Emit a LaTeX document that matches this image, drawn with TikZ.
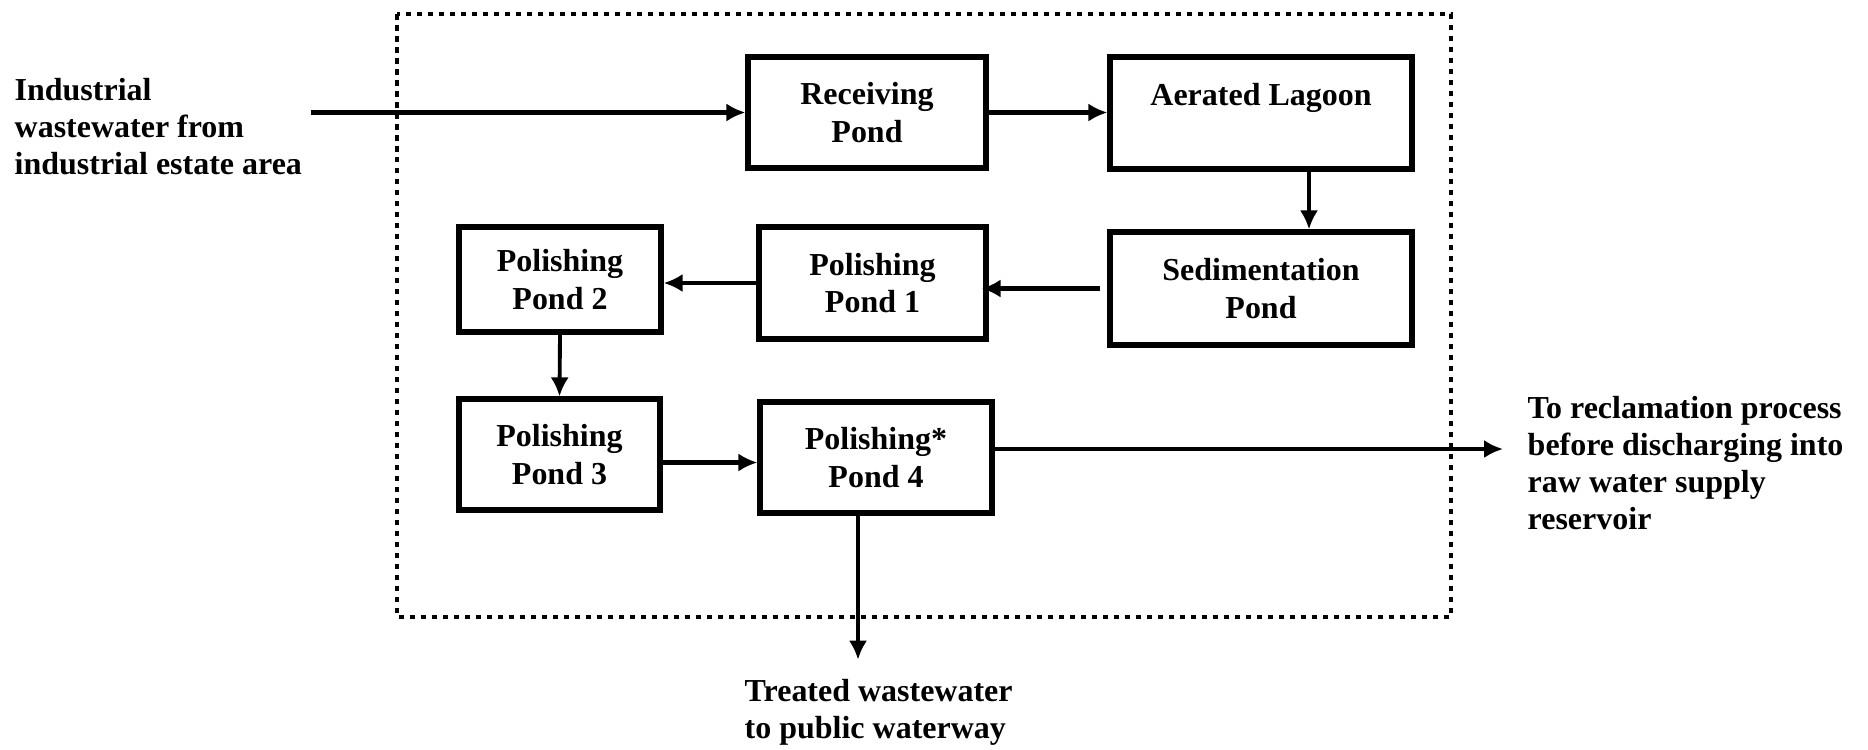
\documentclass[tikz,border=0pt]{standalone}
\usepackage{fontspec}
\setmainfont{Liberation Serif}
\usetikzlibrary{positioning, calc, arrows.meta}
\tikzset{
	pondnode/.style={
			shape=rectangle,
			draw=black,
			line width=1.5pt,
			align=center,
			inner sep=0pt,
			font=\fontsize{9.1}{10.6}\selectfont\bfseries
		},
	plaintext/.style={
			align=left,
			inner sep=0pt,
			font=\fontsize{9.1}{10.6}\selectfont\bfseries
		},
	flowarrow/.style={
			line width=1.4pt,
			-{Latex[length=5.4pt,width=5.2pt]}
		},
	thinarrow/.style={
			flowarrow,
			line width=1.1pt
		},
	plantframe/.style={
			line width=1.3pt,
			dash pattern=on 0.055cm off 0.055cm
		}
}
\begin{document}
\begin{tikzpicture}

	\useasboundingbox (0,0) rectangle (18.68,-7.49);

	\draw[plantframe] (3.97,-0.14) rectangle (14.51,-6.17);

	\node[pondnode, minimum width=2.38cm, minimum height=1.11cm] (recv) at (8.67,-1.125) {Receiving\\Pond};
	\node[pondnode, minimum width=3.02cm, minimum height=1.12cm] (aer) at (12.61,-1.13) {Aerated Lagoon\\\mbox{}};
	\node[pondnode, minimum width=3.02cm, minimum height=1.13cm] (sed) at (12.61,-2.885) {Sedimentation\\Pond};
	\node[pondnode, minimum width=2.27cm, minimum height=1.12cm] (pp1) at (8.725,-2.83) {Polishing\\Pond 1};
	\node[pondnode, minimum width=2.02cm, minimum height=1.05cm] (pp2) at (5.60,-2.795) {Polishing\\Pond 2};
	\node[pondnode, minimum width=2.01cm, minimum height=1.11cm] (pp3) at (5.595,-4.545) {Polishing\\Pond 3};
	\node[pondnode, minimum width=2.32cm, minimum height=1.11cm] (pp4) at (8.76,-4.575) {Polishing*\\Pond 4};

	\node[plaintext, anchor=west] (source) at (0.14,-1.265) {Industrial\\wastewater from\\industrial estate area};
	\node[plaintext, anchor=west] (reclaim) at (15.27,-4.63) {To reclamation process\\before discharging into\\raw water supply\\reservoir};
	\node[plaintext, anchor=west] (treated) at (7.44,-7.125) {Treated wastewater\\to public waterway};

	\draw[flowarrow] ([xshift=0.08cm]source.east |- recv.west) -- (recv.west);
	\draw[flowarrow] (recv.east) -- (recv.east -| aer.west);
	\draw[thinarrow] ([xshift=0.48cm]aer.south) -- ([xshift=0.48cm]sed.north);
	\draw[flowarrow] ([xshift=-0.07cm]sed.west) -- ([xshift=-0.07cm]sed.west -| pp1.east);
	\draw[flowarrow] (pp1.west) -- (pp1.west -| pp2.east);
	\draw[thinarrow] (pp2.south) -- (pp3.north);
	\draw[flowarrow] ([yshift=-0.08cm]pp3.east) -- ([yshift=-0.08cm]pp3.east -| pp4.west);
	\draw[thinarrow] ([yshift=0.085cm]pp4.east) -- ([yshift=0.085cm, xshift=-0.24cm]pp4.east -| reclaim.west);
	\draw[thinarrow] ([xshift=-0.18cm]pp4.south) -- ([xshift=-0.18cm, yshift=0.19cm]pp4.south |- treated.north);

\end{tikzpicture}
\end{document}
